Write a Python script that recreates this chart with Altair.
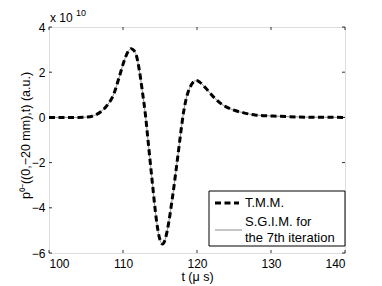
import altair as alt
import pandas as pd

# time (µs) and pressure values (units of 1e10 a.u.)
t_us = [100, 102, 104, 105, 106, 107, 107.9, 108.8, 109.5, 110.2, 110.7, 111.1,
        111.5, 111.8, 112.2, 112.65, 113.0, 113.5, 114.0, 114.5, 114.9, 115.35,
        115.7, 116.0, 116.7, 117.4, 117.85, 118.1, 118.5, 119.0, 119.5, 119.9,
        120.4, 121.2, 122.4, 123.5, 124.9, 126.2, 128.0, 130.3, 132.5, 135, 140]
p_e10 = [0, 0, 0, 0.01, 0.07, 0.25, 0.55, 1.07, 1.80, 2.54, 2.92, 3.04,
         2.95, 2.75, 2.10, 1.07, 0.2, -1.4, -3.0, -4.5, -5.3, -5.6,
         -5.4, -4.98, -3.5, -1.74, -0.56, 0.05, 0.77, 1.29, 1.56, 1.63,
         1.55, 1.29, 0.85, 0.55, 0.33, 0.21, 0.1, 0.06, 0.03, 0.01, 0]

x_ticks = [100, 110, 120, 130, 140]
y_ticks = [-6, -4, -2, 0, 2, 4]
series_names = ["T.M.M.", "S.G.I.M. for", "the 7th iteration"]

W, H = 296, 226
FONT = "Liberation Sans"

df = pd.DataFrame({"t": t_us, "p": p_e10})
dfx = pd.DataFrame({"t": x_ticks})
dfy = pd.DataFrame({"p": y_ticks})
one = pd.DataFrame({"a": [0]})

xs = alt.Scale(domain=[100, 140], nice=False, zero=False)
ys = alt.Scale(domain=[-6, 4], nice=False, zero=False)

xaxis = alt.Axis(values=x_ticks, tickSize=0, grid=False, domain=False,
                 labelFont=FONT, labelFontSize=12, labelColor="black",
                 labelPadding=5, title="t (μ s)", titleFont=FONT,
                 titleFontSize=12.5, titleFontWeight="normal", titleColor="black",
                 titleY=27, titleBaseline="alphabetic")
yaxis = alt.Axis(values=y_ticks, tickSize=0, grid=False, domain=False,
                 labelFont=FONT, labelFontSize=12, labelColor="black",
                 labelPadding=4, title="p⁰⁻((0,−20 mm),t) (a.u.)",
                 titleFont=FONT, titleFontSize=12.5, titleFontWeight="normal",
                 titleColor="black", titleX=-20, titleY=108,
                 titleBaseline="alphabetic", titleAngle=-90)

sgim = alt.Chart(df).mark_line(color="#8c8c8c", strokeWidth=1,
                               interpolate="monotone").encode(
    x=alt.X("t:Q", scale=xs, axis=xaxis),
    y=alt.Y("p:Q", scale=ys, axis=yaxis),
)
tmm = alt.Chart(df).mark_line(color="black", strokeWidth=3, strokeDash=[6, 3.5],
                              interpolate="monotone").encode(
    x=alt.X("t:Q", scale=xs),
    y=alt.Y("p:Q", scale=ys),
)

tick_b = alt.Chart(dfx).mark_rule(color="black", strokeWidth=0.8).encode(
    x=alt.X("t:Q", scale=xs), y=alt.value(H), y2=alt.value(H - 3))
tick_t = alt.Chart(dfx).mark_rule(color="black", strokeWidth=0.8).encode(
    x=alt.X("t:Q", scale=xs), y=alt.value(0), y2=alt.value(3))
tick_l = alt.Chart(dfy).mark_rule(color="black", strokeWidth=0.8).encode(
    y=alt.Y("p:Q", scale=ys), x=alt.value(0), x2=alt.value(3))
tick_r = alt.Chart(dfy).mark_rule(color="black", strokeWidth=0.8).encode(
    y=alt.Y("p:Q", scale=ys), x=alt.value(W), x2=alt.value(W - 3))

# exponent label
exp1 = alt.Chart(one).mark_text(text="x 10", font=FONT, fontSize=12, align="left",
                                baseline="alphabetic", color="black").encode(
    x=alt.value(1), y=alt.value(-5))
exp2 = alt.Chart(one).mark_text(text="10", font=FONT, fontSize=9, align="left",
                                baseline="alphabetic", color="black").encode(
    x=alt.value(27), y=alt.value(-11))

# legend
box = alt.Chart(one).mark_rect(fill="white", stroke="black", strokeWidth=1).encode(
    x=alt.value(160), x2=alt.value(W), y=alt.value(164), y2=alt.value(219))
leg_dash = alt.Chart(one).mark_rule(color="black", strokeWidth=3,
                                    strokeDash=[6, 3.5]).encode(
    x=alt.value(166), x2=alt.value(190), y=alt.value(176))
leg_gray = alt.Chart(one).mark_rule(color="#8c8c8c", strokeWidth=1).encode(
    x=alt.value(166), x2=alt.value(193), y=alt.value(203))
leg_txt = [
    alt.Chart(one).mark_text(text=txt, font=FONT, fontSize=13, align="left",
                             baseline="alphabetic", color="black").encode(
        x=alt.value(196), y=alt.value(yy))
    for txt, yy in zip(series_names, [180, 199, 215])
]

chart = alt.layer(sgim, tmm, tick_b, tick_t, tick_l, tick_r, exp1, exp2,
                  box, leg_dash, leg_gray, *leg_txt).properties(
    width=W, height=H,
    autosize=alt.AutoSizeParams(type="none"),
    padding={"left": 41, "top": 19, "right": 20, "bottom": 33},
).configure_view(stroke="black", strokeWidth=1).configure(background="white")

chart.save("out.html", embed_options={"renderer": "svg", "actions": False})
